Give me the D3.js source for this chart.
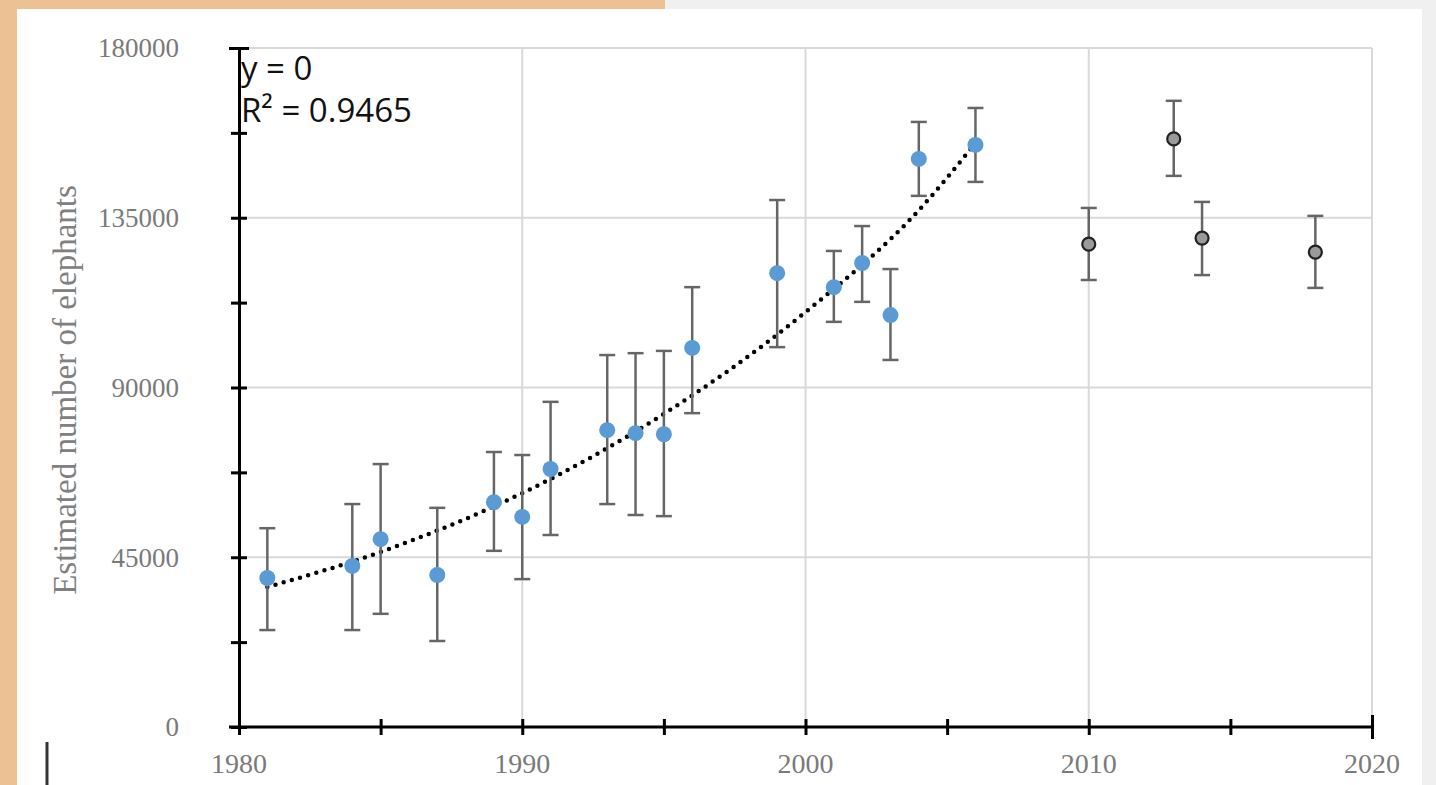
<!DOCTYPE html>
<html>
<head>
<meta charset="utf-8">
<script src="https://cdn.jsdelivr.net/npm/d3@7"></script>
<style>
  body { margin: 0; background: #f0f0f0; }
  svg { display: block; }
</style>
</head>
<body>
<svg id="chart" viewBox="0 0 1436 785" width="1436" height="785"></svg>
<script>
// survey estimates (blue) with error bar limits
const years = [1981, 1984, 1985, 1987, 1989, 1990, 1991, 1993, 1994, 1995, 1996, 1999, 2001, 2002, 2003, 2004, 2006]
const counts = [39500, 42700, 49800, 40300, 59600, 55700, 68400, 78700, 77900, 77600, 100500, 120300, 116600, 123000, 109200, 150600, 154300]
const lows = [25700, 25700, 30000, 22800, 46700, 39200, 50900, 59100, 56200, 55900, 83200, 100700, 107400, 112700, 97300, 140800, 144500]
const highs = [52700, 59100, 69700, 58100, 72900, 72100, 86200, 98600, 99100, 99700, 116600, 139700, 126200, 132800, 121400, 160400, 164100]

// later estimates (grey)
const lateYears = [2010, 2013, 2014, 2018]
const lateCounts = [128000, 155900, 129600, 125900]
const lateLows = [118500, 146100, 119800, 116400]
const lateHighs = [137600, 166000, 139200, 135500]

// dotted trend line as drawn
const trendYears = [1981, 1985, 1990, 1995, 2000, 2004, 2006]
const trendValues = [37100, 46400, 62000, 83000, 110000, 137000, 154800]

const yTicks = [0, 45000, 90000, 135000, 180000]
const xTicks = [1980, 1990, 2000, 2010, 2020]

let svg = d3.select("#chart")

// page decoration
svg.append("rect").attr("x", 0).attr("y", 0).attr("width", 1436).attr("height", 785).attr("fill", "#f0f0f0")
svg.append("rect").attr("x", 0).attr("y", 0).attr("width", 665).attr("height", 9).attr("fill", "#ecc295")
svg.append("rect").attr("x", 0).attr("y", 0).attr("width", 17).attr("height", 785).attr("fill", "#ecc295")
svg.append("rect").attr("x", 17).attr("y", 9).attr("width", 1405).attr("height", 776).attr("fill", "#ffffff")
svg.append("line").attr("x1", 47).attr("x2", 47).attr("y1", 742).attr("y2", 785)
    .attr("stroke", "#333").attr("stroke-width", 3)

let x = d3.scaleLinear().domain([1980, 2020]).range([239, 1372])
let y = d3.scaleLinear().domain([0, 180000]).range([727, 48])

let g = svg.append("g")

// grid
g.append("g").selectAll("line").data(yTicks.slice(1)).enter().append("line")
    .attr("x1", x(1980)).attr("x2", x(2020))
    .attr("y1", d => y(d)).attr("y2", d => y(d))
    .attr("stroke", "#d9d9d9").attr("stroke-width", 2)
g.append("g").selectAll("line").data(xTicks.slice(1)).enter().append("line")
    .attr("x1", d => x(d)).attr("x2", d => x(d))
    .attr("y1", y(0)).attr("y2", y(180000))
    .attr("stroke", "#d9d9d9").attr("stroke-width", 2)

// axes
let yAxis = g.append("g").attr("transform", `translate(${x(1980)},0)`)
    .call(d3.axisLeft(y).tickValues(d3.range(0, 180001, 22500)).tickSize(0).tickFormat(""))
yAxis.select(".domain").attr("stroke", "#000").attr("stroke-width", 3)
yAxis.selectAll(".tick line").attr("x1", -8).attr("x2", 8).attr("stroke", "#000").attr("stroke-width", 3)
yAxis.selectAll(".tick").filter(d => d === 180000).select("line").attr("x1", -10).attr("x2", 10)

let xAxis = g.append("g").attr("transform", `translate(0,${y(0)})`)
    .call(d3.axisBottom(x).tickValues(d3.range(1980, 2021, 5)).tickSize(0).tickFormat(""))
xAxis.select(".domain").attr("d", `M${x(1980) - 10},0H${x(2020)}`).attr("stroke", "#000").attr("stroke-width", 3)
xAxis.selectAll(".tick line").attr("y1", -8).attr("y2", 8).attr("stroke", "#000").attr("stroke-width", 3)
xAxis.selectAll(".tick").filter(d => d === 2020).select("line").attr("y1", -12).attr("y2", 12)

// tick labels
g.append("g").selectAll("text").data(yTicks).enter().append("text")
    .attr("x", x(1980) - 60).attr("y", d => y(d)).attr("dy", "0.35em")
    .attr("text-anchor", "end")
    .attr("font-family", "Liberation Serif, Times New Roman, serif").attr("font-size", 27)
    .attr("fill", "#7a7a7a")
    .text(d => d)
g.append("g").selectAll("text").data(xTicks).enter().append("text")
    .attr("x", d => x(d)).attr("y", 773)
    .attr("text-anchor", "middle")
    .attr("font-family", "Liberation Serif, Times New Roman, serif").attr("font-size", 28)
    .attr("fill", "#7a7a7a")
    .text(d => d)

svg.append("text")
    .attr("transform", "translate(76,390) rotate(-90)")
    .attr("text-anchor", "middle")
    .attr("font-family", "Liberation Serif, Times New Roman, serif").attr("font-size", 33)
    .attr("fill", "#808080")
    .text("Estimated number of elephants")

// trend line
let trend = d3.line().x((d, i) => x(trendYears[i])).y(d => y(d)).curve(d3.curveMonotoneX)
g.append("path").attr("d", trend(trendValues))
    .attr("fill", "none").attr("stroke", "#000").attr("stroke-width", 4.5)
    .attr("stroke-linecap", "round").attr("stroke-dasharray", "0,8.5")

// error bars
function errorBars(xs, lo, hi) {
    let eb = g.append("g").attr("stroke", "#666").attr("stroke-width", 2.5)
    eb.selectAll(".v").data(xs).enter().append("line")
        .attr("x1", d => x(d)).attr("x2", d => x(d))
        .attr("y1", (d, i) => y(lo[i])).attr("y2", (d, i) => y(hi[i]))
    eb.selectAll(".lo").data(xs).enter().append("line")
        .attr("x1", d => x(d) - 8).attr("x2", d => x(d) + 8)
        .attr("y1", (d, i) => y(lo[i])).attr("y2", (d, i) => y(lo[i]))
    eb.selectAll(".hi").data(xs).enter().append("line")
        .attr("x1", d => x(d) - 8).attr("x2", d => x(d) + 8)
        .attr("y1", (d, i) => y(hi[i])).attr("y2", (d, i) => y(hi[i]))
}
errorBars(years, lows, highs)
errorBars(lateYears, lateLows, lateHighs)

// points
g.append("g").selectAll("circle").data(years).enter().append("circle")
    .attr("cx", d => x(d)).attr("cy", (d, i) => y(counts[i])).attr("r", 8)
    .attr("fill", "#5b9bd5")
g.append("g").selectAll("circle").data(lateYears).enter().append("circle")
    .attr("cx", d => x(d)).attr("cy", (d, i) => y(lateCounts[i])).attr("r", 6.5)
    .attr("fill", "#9a9a9a").attr("stroke", "#222").attr("stroke-width", 2.2)

// equation label
let eq = svg.append("g").attr("font-family", "Open Sans, sans-serif").attr("font-size", 33).attr("fill", "#111")
eq.append("text").attr("x", 241).attr("y", 80).text("y = 0")
eq.append("text").attr("x", 241).attr("y", 122).text("R² = 0.9465")
</script>
</body>
</html>
